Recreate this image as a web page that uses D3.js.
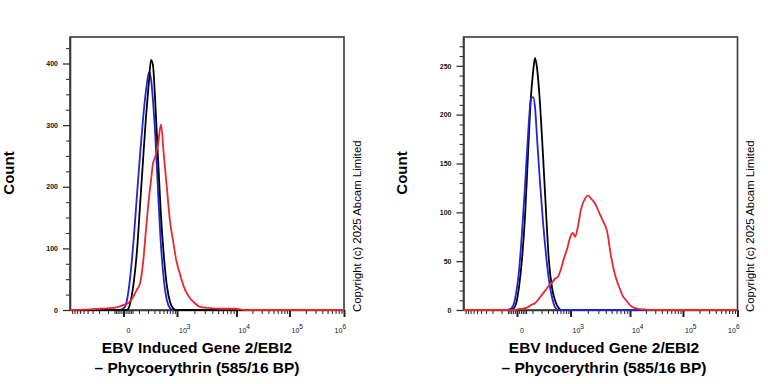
<!DOCTYPE html>
<html>
<head>
<meta charset="utf-8">
<script src="https://cdn.jsdelivr.net/npm/d3@7/dist/d3.min.js"></script>
<style>
  html, body { margin: 0; padding: 0; background: #fff; }
  svg { display: block; }
  text { font-family: "Liberation Sans", Arial, sans-serif; }
</style>
</head>
<body>
<svg id="chart" width="768" height="384"></svg>
<script>
// ---------- DATA ----------
// Left panel: fluorescence intensity grid and event counts
const leftX = [-1000, -349, -187, -83, -46, -17, 7, 22, 40, 60, 83, 110, 140, 174, 214, 243, 275, 310, 369, 437, 514, 603, 704, 820, 952, 1130, 1382, 1686, 2052, 2492, 3663, 5361, 9450, 14490, 27830, 156000, 1000000];
const leftBlack = [0, 0, 0, 0, 0, 0, 0, 1, 17, 48, 96, 170, 243, 313, 373, 406, 397, 346, 248, 152, 85, 38, 13, 3, 0, 0, 0, 0, 0, 0, 0, 0, 0, 0, 0, 0, 0];
const leftBlue  = [0, 0, 0, 0, 0, 0, 5, 25, 66, 121, 187, 252, 310, 356, 386, 375, 340, 292, 194, 104, 47, 15, 3, 0, 0, 0, 0, 0, 0, 0, 0, 0, 0, 0, 0, 0, 0];
const leftRed   = [0, 1, 2, 3, 4, 6, 9, 11, 16, 24, 33, 43, 76, 130, 183, 210, 238, 247, 268, 301, 248, 196, 144, 113, 83, 58, 33, 19, 11, 5, 3, 2, 2, 0, 0, 0, 0];

// Right panel
const rightX = [-1000, -235, -71, -37, -20, -5, 9, 25, 43, 64, 87, 105, 124, 145, 180, 221, 267, 320, 380, 449, 528, 619, 722, 840, 976, 1108, 1201, 1355, 1527, 1789, 2012, 2262, 2641, 3082, 3593, 4187, 4877, 5676, 6604, 7682, 8931, 10446, 12440, 15470, 36900, 205100, 1000000];
const rightBlack = [0, 0, 0, 0, 1, 6, 23, 52, 95, 160, 219, 243, 258, 248, 212, 158, 101, 49, 23, 10, 3, 0, 0, 0, 0, 0, 0, 0, 0, 0, 0, 0, 0, 0, 0, 0, 0, 0, 0, 0, 0, 0, 0, 0, 0, 0, 0];
const rightBlue  = [0, 0, 0, 1, 4, 16, 39, 79, 126, 179, 216, 218, 208, 177, 131, 90, 57, 30, 13, 3, 0, 0, 0, 0, 0, 0, 0, 0, 0, 0, 0, 0, 0, 0, 0, 0, 0, 0, 0, 0, 0, 0, 0, 0, 0, 0, 0];
const rightRed   = [0, 0, 0, 0, 0, 0, 1, 1, 2, 3, 5, 6, 7, 9, 13, 17, 21, 25, 28, 32, 34, 42, 53, 62, 74, 79, 75, 86, 103, 114, 117, 114, 109, 100, 91, 81, 55, 36, 24, 14, 9, 4, 2, 1, 0, 0, 0];

// Axis ticks
const xMajorTicks = [0, 1e3, 1e4, 1e5, 1e6];
const xTickBase = ["0", "10", "10", "10", "10"];
const xTickExp = ["", "3", "4", "5", "6"];
const xMinorTicks = [-900, -800, -700, -600, -500, -400, -300, -200, -100,
  -50, -40, -30, -20, -10, 10, 20, 30, 40, 50,
  100, 200, 300, 400, 500, 600, 700, 800, 900,
  2000, 3000, 4000, 5000, 6000, 7000, 8000, 9000,
  20000, 30000, 40000, 50000, 60000, 70000, 80000, 90000,
  200000, 300000, 400000, 500000, 600000, 700000, 800000, 900000];
const leftYTicks = [0, 100, 200, 300, 400];
const leftYMinor = [25, 50, 75, 125, 150, 175, 225, 250, 275, 325, 350, 375, 425];
const rightYTicks = [0, 50, 100, 150, 200, 250];
const rightYMinor = [10, 20, 30, 40, 60, 70, 80, 90, 110, 120, 130, 140, 160, 170, 180, 190, 210, 220, 230, 240, 260, 270];

const xTitle1 = "EBV Induced Gene 2/EBI2";
const xTitle2 = "\u2013 Phycoerythrin (585/16 BP)";
const yTitle = "Count";
const copyright = "Copyright (c) 2025 Abcam Limited";

const colors = { black: "#000000", blue: "#2323d8", red: "#e8282c" };

// ---------- DRAW ----------
const svg = d3.select("#chart");
const TOP = 37, BOTTOM = 310, PW = 274;

function panel(cfg) {
  const L = cfg.left, R = L + PW;
  const g = svg.append("g");
  const x = d3.scaleSymlog().constant(100)
    .domain([-1000, 0, 1e3, 1e4, 1e5, 1e6])
    .range([L, L + 53.5, L + 107, L + 166.5, L + 219.5, R]);
  const y = d3.scaleLinear().domain([0, cfg.yMax]).range([BOTTOM, TOP]);

  // frame
  g.append("rect").attr("x", L).attr("y", TOP).attr("width", PW).attr("height", BOTTOM - TOP)
    .attr("fill", "none").attr("stroke", "#3a3a3a").attr("stroke-width", 1.6);

  // y axis
  const yMaj = g.append("g").attr("transform", `translate(${L},0)`)
    .call(d3.axisLeft(y).tickValues(cfg.yTicks).tickSize(7).tickSizeOuter(0).tickPadding(5));
  yMaj.select(".domain").attr("stroke", "#3a3a3a").attr("stroke-width", 1.6);
  yMaj.selectAll(".tick line").attr("stroke", "#333").attr("stroke-width", 1.3);
  yMaj.selectAll(".tick text").attr("font-family", "Liberation Sans, Arial, sans-serif")
    .attr("font-size", 7).attr("font-weight", "bold").attr("fill", "#111");
  const yMin = g.append("g").attr("transform", `translate(${L},0)`)
    .call(d3.axisLeft(y).tickValues(cfg.yMinor).tickSize(4).tickSizeOuter(0).tickFormat(""));
  yMin.select(".domain").remove();
  yMin.selectAll(".tick line").attr("stroke", "#333").attr("stroke-width", 1.1);

  // x axis
  const xMaj = g.append("g").attr("transform", `translate(0,${BOTTOM})`)
    .call(d3.axisBottom(x).tickValues(xMajorTicks).tickSize(7).tickSizeOuter(0).tickFormat(""));
  xMaj.select(".domain").attr("stroke", "#3a3a3a").attr("stroke-width", 1.6);
  xMaj.selectAll(".tick line").attr("stroke", "#222").attr("stroke-width", 2);
  const xMin = g.append("g").attr("transform", `translate(0,${BOTTOM})`)
    .call(d3.axisBottom(x).tickValues(xMinorTicks).tickSize(4).tickSizeOuter(0).tickFormat(""));
  xMin.select(".domain").remove();
  xMin.selectAll(".tick line").attr("stroke", "#333").attr("stroke-width", 1.1);

  // x tick labels with superscripts
  xMajorTicks.forEach((v, i) => {
    const px = x(v);
    const t = g.append("text").attr("y", 333).attr("font-size", 7).attr("fill", "#111");
    if (i === 0) { t.attr("x", px + 5).attr("text-anchor", "middle").text(xTickBase[i]); return; }
    if (i === xMajorTicks.length - 1) t.attr("x", px + 2).attr("text-anchor", "end");
    else t.attr("x", px + 2).attr("text-anchor", "start");
    t.append("tspan").text(xTickBase[i]);
    t.append("tspan").attr("font-size", 6.5).attr("dy", -4.5).text(xTickExp[i]);
  });

  // curves
  const line = d3.line().x(d => x(d[0])).y(d => y(d[1])).curve(d3.curveMonotoneX);
  cfg.series.forEach(s => {
    g.append("path").datum(cfg.xs.map((v, i) => [v, s.values[i]]))
      .attr("d", line).attr("fill", "none").attr("stroke", s.color)
      .attr("stroke-width", 1.8).attr("stroke-linejoin", "round");
  });

  // titles
  g.append("text").attr("transform", `translate(${L - 56.5},173) rotate(-90)`)
    .attr("text-anchor", "middle").attr("font-size", 15).attr("font-weight", "bold").text(yTitle);
  g.append("text").attr("x", cfg.titleX).attr("y", 353).attr("text-anchor", "middle")
    .attr("font-size", 15.5).attr("font-weight", "bold").text(xTitle1);
  g.append("text").attr("x", cfg.titleX).attr("y", 373).attr("text-anchor", "middle")
    .attr("font-size", 15.5).attr("font-weight", "bold").text(xTitle2);
  g.append("text").attr("transform", `translate(${R + 16.5},${BOTTOM + 2}) rotate(-90)`)
    .attr("text-anchor", "start").attr("font-size", 11.4).text(copyright);
}

panel({ left: 70, yMax: 443, yTicks: leftYTicks, yMinor: leftYMinor, titleX: 197, xs: leftX,
  series: [ { values: leftBlue, color: colors.blue }, { values: leftBlack, color: colors.black }, { values: leftRed, color: colors.red } ] });
panel({ left: 463.5, yMax: 279.5, yTicks: rightYTicks, yMinor: rightYMinor, titleX: 604, xs: rightX,
  series: [ { values: rightBlack, color: colors.black }, { values: rightBlue, color: colors.blue }, { values: rightRed, color: colors.red } ] });
</script>
</body>
</html>
